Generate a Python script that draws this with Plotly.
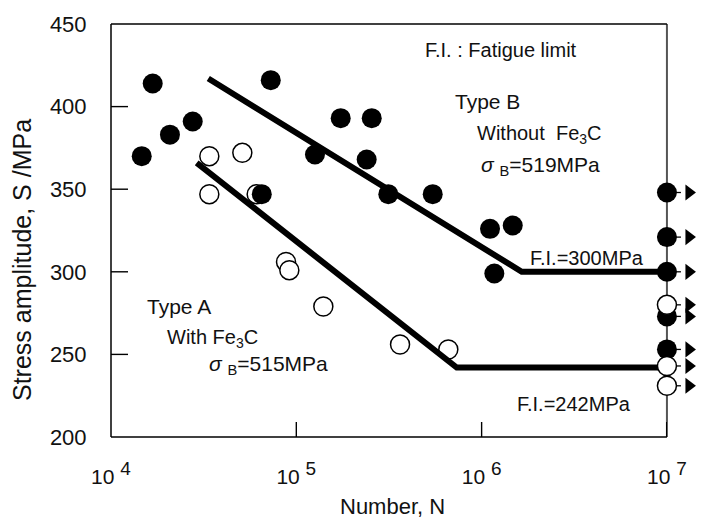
import math
import plotly.graph_objects as go

# Type B (without Fe3C) - filled circles, broken specimens
b_n = [14650, 16790, 20800, 27600, 72800, 65100, 126100, 173600, 255300,
       239700, 313700, 544600, 1110000, 1472000, 1171000]
b_s = [370, 414, 383, 391, 416, 347, 371, 393, 393, 368, 347, 347, 326, 328, 299]
# Type B runouts at 1e7
b_run_n = [1e7, 1e7, 1e7, 1e7, 1e7]
b_run_s = [348, 321, 300, 273, 253]

# Type A (with Fe3C) - open circles
a_n = [33930, 33930, 51130, 61100, 88000, 91700, 139900, 362900, 661000]
a_s = [370, 347, 372, 347, 306, 301, 279, 256, 253]
a_run_n = [1e7, 1e7, 1e7]
a_run_s = [280, 243, 231]

# S-N fit lines
lineB_n = [33500, 1646000, 1e7]
lineB_s = [417, 300, 300]
lineA_n = [29000, 734000, 1e7]
lineA_s = [366, 242, 242]

x_ticks = [1e4, 1e5, 1e6, 1e7]
x_exp = ['4', '5', '6', '7']
x_ticktext = ['10 <sup><span style="font-size:19px">%s</span></sup>' % e for e in x_exp]
y_ticks = [200, 250, 300, 350, 400, 450]

FONT = "Liberation Sans, Arial, sans-serif"
arrow_shift = 10 ** (22 / 185.3)   # triangle offset right of runout point
stem_shift = 10 ** (14 / 185.3)
ytick_shift = 10 ** (17 / 185.3)   # inside tick length on the log axis
xtick_len = 15 / 1.652             # inside tick length in MPa
X_MIN, X_MAX = 4, 7.2   # log range; runs a little past 1e7 so the arrows fit

fig = go.Figure()

# inside ticks drawn as short lines
tx, ty = [], []
for v in y_ticks[1:-1]:
    tx += [x_ticks[0], x_ticks[0] * ytick_shift, None]
    ty += [v, v, None]
for v in x_ticks[1:-1]:
    tx += [v, v, None]
    ty += [y_ticks[0], y_ticks[0] + xtick_len, None]
fig.add_trace(go.Scatter(x=tx, y=ty, mode='lines', line=dict(color='black', width=1.4)))

fig.add_trace(go.Scatter(x=a_n, y=a_s, mode='markers',
                         marker=dict(size=19, color='white', line=dict(color='black', width=1.5))))
fig.add_trace(go.Scatter(x=lineB_n, y=lineB_s, mode='lines', line=dict(color='black', width=6)))
fig.add_trace(go.Scatter(x=lineA_n, y=lineA_s, mode='lines', line=dict(color='black', width=6)))
fig.add_trace(go.Scatter(x=b_n, y=b_s, mode='markers',
                         marker=dict(size=20, color='black')))

# runout arrows
run_n = b_run_n + a_run_n
run_s = b_run_s + a_run_s
stem_x, stem_y = [], []
for n, s in zip(run_n, run_s):
    stem_x += [n, n * stem_shift, None]
    stem_y += [s, s, None]
fig.add_trace(go.Scatter(x=stem_x, y=stem_y, mode='lines', line=dict(color='black', width=1.3)))
fig.add_trace(go.Scatter(x=[n * arrow_shift for n in run_n], y=run_s, mode='markers',
                         marker=dict(symbol='triangle-right', size=14, color='black')))
fig.add_trace(go.Scatter(x=b_run_n, y=b_run_s, mode='markers', cliponaxis=False,
                         marker=dict(size=20, color='black')))
fig.add_trace(go.Scatter(x=a_run_n, y=a_run_s, mode='markers', cliponaxis=False,
                         marker=dict(size=19, color='white', line=dict(color='black', width=1.5))))

def xfrac(v):
    return (math.log10(v) - X_MIN) / (X_MAX - X_MIN)

# frame in paper coords (right edge sits at 1e7, not at the end of the range)
x_right = xfrac(1e7)
fig.add_shape(type='line', xref='paper', yref='paper', x0=0, x1=0, y0=0, y1=1,
              line=dict(color='black', width=1.5))
fig.add_shape(type='line', xref='paper', yref='paper', x0=0, x1=x_right, y0=0, y1=0,
              line=dict(color='black', width=1.5))
fig.add_shape(type='line', xref='paper', yref='paper', x0=0, x1=x_right, y0=1, y1=1,
              line=dict(color='black', width=1.5))
fig.add_shape(type='line', xref='paper', yref='paper', x0=x_right, x1=x_right, y0=0, y1=1,
              line=dict(color='#555', width=2), layer='below')

# page body has an 8px margin; plot area in page pixels is x 111..704, y 24..437
def px(xp):
    return (xp - 111) / 593
def py(yp):
    return (437 - yp) / 413

def txt(x, y, t, size, anchor='left', angle=0):
    fig.add_annotation(x=px(x), y=py(y), xref='paper', yref='paper', text=t, showarrow=False,
                       xanchor=anchor, yanchor='middle', textangle=angle,
                       font=dict(size=size, color='#111'))

txt(423, 50, "F.I. : Fatigue limit", 20)
txt(453, 102, "Type B", 21)
txt(475, 134, "Without  Fe<sub>3</sub>C", 20)
txt(479, 166, "<i>σ</i> <sub>B</sub>=519MPa", 21)
txt(528, 258, "F.I.=300MPa", 20)
txt(515, 404, "F.I.=242MPa", 20)
txt(145, 306, "Type A", 21)
txt(165, 338, "With Fe<sub>3</sub>C", 20)
txt(207, 365, "<i>σ</i> <sub>B</sub>=515MPa", 21)
# axis titles
txt(392, 506, "Number, N", 22, anchor='center')
txt(22, 260, "Stress amplitude, S /MPa", 25, anchor='center', angle=-90)

fig.update_layout(
    width=699, height=512,
    margin=dict(l=103, r=3, t=16, b=83, autoexpand=False),
    plot_bgcolor='white', paper_bgcolor='white',
    showlegend=False,
    font=dict(family=FONT, color='#111'),
    xaxis=dict(type='log', range=[X_MIN, X_MAX], tickvals=x_ticks, ticktext=x_ticktext,
               ticks='inside', ticklen=15, tickwidth=1.2,
               tickcolor='black', showline=False, showgrid=False, zeroline=False,
               tickfont=dict(size=21), ticklabelstandoff=25),
    # transparent outside ticks only push the labels away from the frame
    yaxis=dict(range=[200, 450], tickvals=y_ticks,
               ticks='outside', ticklen=19, tickcolor='rgba(0,0,0,0)',
               showline=False, showgrid=False, zeroline=False,
               tickfont=dict(size=22)),
)

fig.write_html("out.html")
